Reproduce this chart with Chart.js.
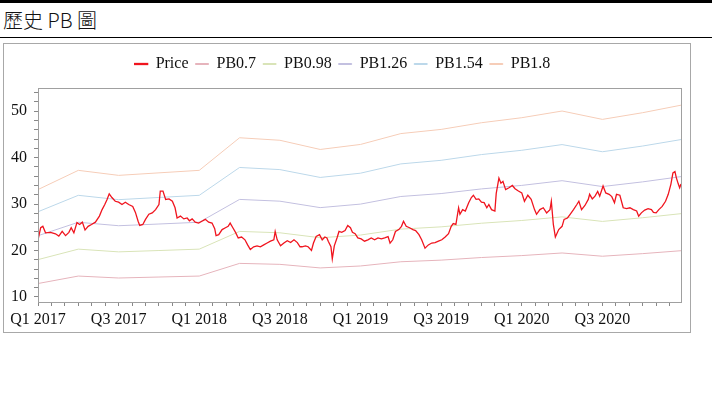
<!DOCTYPE html>
<html>
<head>
<meta charset="utf-8">
<script src="https://cdn.jsdelivr.net/npm/chart.js@4/dist/chart.umd.min.js"></script>
<style>
    body { margin: 0; background: #fff; }
    #wrap { width: 712px; }
    #topbar { height: 3px; background: #000; }
    #title {
        font-family: "Noto Sans CJK TC", sans-serif;
        font-weight: 300;
        font-size: 20px;
        line-height: 33px;
        height: 34px;
        padding-left: 3px;
        border-bottom: 1px solid #000;
        color: #111;
    }
    #box {
        position: absolute;
        left: 3px;
        top: 43px;
        width: 686px;
        height: 288px;
        border: 1px solid #a8a8a8;
    }
</style>
</head>
<body>
<div id="wrap">
    <div id="topbar"></div>
    <div id="title">歷史 PB 圖</div>
</div>
<div id="box"><canvas id="pbChart" width="686" height="288"></canvas></div>
<script>
// x values are months since Jan 2017
const priceMonths = [0,0.2,0.36,0.56,0.93,1.3,1.55,1.8,2.05,2.3,2.47,2.67,2.9,3.1,3.3,3.5,3.73,3.98,4.27,4.57,4.77,4.97,5.14,5.3,5.5,5.75,6,6.25,6.5,6.75,7.05,7.25,7.45,7.57,7.8,8,8.25,8.5,8.75,9,9.1,9.3,9.5,9.75,10,10.2,10.35,10.6,10.85,11.1,11.27,11.47,11.7,11.95,12.2,12.45,12.7,12.95,13.15,13.25,13.45,13.7,13.95,14.15,14.3,14.5,14.7,14.9,15.15,15.4,15.6,15.8,16.05,16.3,16.55,16.8,17.05,17.3,17.55,17.65,17.8,18.05,18.3,18.55,18.8,19.05,19.3,19.5,19.65,19.9,20.1,20.35,20.5,20.7,20.95,21.15,21.35,21.5,21.6,21.8,21.9,22.05,22.25,22.4,22.6,22.85,23.05,23.25,23.4,23.6,23.8,24.05,24.3,24.55,24.8,25.05,25.3,25.55,25.8,26.05,26.2,26.4,26.6,26.85,27.05,27.2,27.4,27.65,27.9,28.1,28.35,28.55,28.8,29.05,29.3,29.55,29.8,30.05,30.3,30.55,30.75,30.9,31.1,31.3,31.4,31.6,31.8,32.05,32.25,32.4,32.6,32.8,33,33.2,33.4,33.55,33.75,34,34.1,34.3,34.45,34.6,34.8,35.05,35.3,35.5,35.75,36,36.2,36.45,36.7,36.95,37.1,37.35,37.6,37.85,38.1,38.2,38.35,38.5,38.75,39,39.15,39.4,39.6,39.85,40.1,40.25,40.45,40.7,40.95,41.05,41.25,41.45,41.65,41.8,42.05,42.25,42.5,42.7,42.9,43.05,43.3,43.55,43.8,44.05,44.3,44.55,44.7,44.9,45.15,45.4,45.65,45.8,46,46.2,46.45,46.7,46.9,47.1,47.25,47.4,47.5,47.65,47.75,47.85];
const price = [22.3,24.9,25.2,23.8,23.9,23.6,23.1,24.1,23.2,23.9,24.9,23.8,26.0,25.6,26.1,24.4,25.2,25.6,26.1,27.4,28.8,29.9,31.0,32.2,31.4,30.6,30.4,29.9,30.4,29.9,29.5,28.2,26.3,25.4,25.6,26.7,27.8,28.1,28.8,29.9,32.8,32.8,31.0,31.1,30.6,29.2,27.0,27.4,26.8,27.0,26.4,26.8,26.1,25.9,26.3,26.7,26.1,25.9,24.7,23.2,23.4,24.5,24.9,25.2,25.9,24.9,23.9,22.7,22.9,22.3,21.2,20.2,20.8,21.0,20.8,21.2,21.6,22.0,22.3,24.1,22.3,21.0,21.6,22.1,21.7,22.3,21.7,20.8,20.8,21.0,20.8,20.0,21.6,23.0,23.4,22.3,22.9,22.7,22.0,20.8,18.2,21.0,22.7,24.1,23.9,24.3,25.4,24.9,23.9,23.6,22.7,22.5,22.0,22.3,22.7,22.3,22.7,22.5,22.7,23.0,21.6,22.3,24.1,24.5,25.2,26.3,25.2,24.9,24.5,24.3,23.4,22.3,20.5,21.2,21.6,21.7,22.0,22.3,22.9,23.6,25.2,25.8,25.6,29.2,27.8,28.8,28.5,30.3,31.4,31.9,31.0,31.1,30.4,30.3,29.2,29.9,28.8,28.5,32.3,35.6,34.5,34.9,33.1,33.5,34.0,33.3,32.8,32.4,30.6,31.9,31.0,28.8,27.8,28.8,29.2,28.1,28.8,30.6,25.6,22.9,24.5,25.2,26.7,27.0,27.8,28.8,29.9,30.6,28.8,29.7,31.0,32.1,31.1,31.7,32.7,31.7,33.9,32.4,32.1,31.6,30.3,32.1,31.9,29.2,29.0,29.2,28.8,28.5,27.4,28.1,28.7,29.0,28.8,28.2,28.1,28.8,29.5,30.6,32.1,34.3,36.7,37.0,35.7,34.3,33.5,34.3];

// PB bands, one value per quarter
const bandMonths = [0,3,6,9,12,15,18,21,24,27,30,33,36,39,42,45,47.85];
const pb07  = [12.88,14.49,14.07,14.28,14.49,17.22,17.01,16.24,16.66,17.57,17.92,18.48,18.90,19.46,18.76,19.32,19.95];
const pb098 = [18.03,20.29,19.70,19.99,20.29,24.11,23.81,22.74,23.32,24.60,25.09,25.87,26.46,27.24,26.26,27.05,27.93];
const pb126 = [23.18,26.08,25.33,25.70,26.08,31.00,30.62,29.23,29.99,31.63,32.26,33.26,34.02,35.03,33.77,34.78,35.91];
const pb154 = [28.34,31.88,30.95,31.42,31.88,37.88,37.42,35.73,36.65,38.65,39.42,40.66,41.58,42.81,41.27,42.50,43.89];
const pb18  = [33.12,37.26,36.18,36.72,37.26,44.28,43.74,41.76,42.84,45.18,46.08,47.52,48.60,50.04,48.24,49.68,51.30];

const seriesNames = ['Price', 'PB0.7', 'PB0.98', 'PB1.26', 'PB1.54', 'PB1.8'];
const xTickLabels = ['Q1 2017','Q3 2017','Q1 2018','Q3 2018','Q1 2019','Q3 2019','Q1 2020','Q3 2020'];
const yTickLabels = [10, 20, 30, 40, 50];

function toPoints(xs, ys){
    return xs.map((x, i) => ({x: x, y: ys[i]}));
}

function band(name, values, color){
    return {
        label: name,
        data: toPoints(bandMonths, values),
        borderColor: color,
        backgroundColor: color,
        borderWidth: 1,
        pointRadius: 0,
        fill: false,
        tension: 0
    };
}

// gray frame round the plot area
const frame = {
    id: 'frame',
    afterDraw(chart){
        const a = chart.chartArea;
        const ctx = chart.ctx;
        ctx.save();
        ctx.strokeStyle = '#a0a0a0';
        ctx.lineWidth = 1;
        ctx.strokeRect(Math.round(a.left) + 0.5, Math.round(a.top) + 0.5,
            Math.round(a.right - a.left), Math.round(a.bottom - a.top));
        ctx.restore();
    }
};

Chart.defaults.font.family = '"Liberation Serif", "Times New Roman", serif';
Chart.defaults.font.size = 16;
Chart.defaults.color = '#111';

new Chart(document.getElementById('pbChart'), {
    type: 'line',
    data: {
        datasets: [
            {
                label: seriesNames[0],
                data: toPoints(priceMonths, price),
                borderColor: '#f0141e',
                backgroundColor: '#d0303c',
                borderWidth: 1.3,
                pointRadius: 0,
                fill: false,
                tension: 0
            },
            band(seriesNames[1], pb07, '#e6b4bc'),
            band(seriesNames[2], pb098, '#d9e4b8'),
            band(seriesNames[3], pb126, '#c3c0e0'),
            band(seriesNames[4], pb154, '#bcd8ea'),
            band(seriesNames[5], pb18, '#f6cdb8')
        ]
    },
    options: {
        responsive: false,
        animation: false,
        layout: { padding: { top: 5, right: 9, left: 0, bottom: 0 } },
        scales: {
            x: {
                type: 'linear',
                min: 0,
                max: 47.85,
                afterBuildTicks(scale){
                    const t = [];
                    for (let m = 0; m <= 47; m++) t.push({value: m});
                    scale.ticks = t;
                },
                afterFit(scale){ scale.height = 30; },
                ticks: {
                    autoSkip: false,
                    maxRotation: 0,
                    padding: 4,
                    callback: (v) => (v % 6 === 0) ? xTickLabels[v / 6] : ''
                },
                grid: { drawOnChartArea: false, tickLength: 4, tickColor: '#888' },
                border: { color: '#a0a0a0' }
            },
            // empty strip between legend and plot
            gap: {
                type: 'linear',
                position: 'top',
                min: 0,
                max: 1,
                afterFit(scale){ scale.height = 6; },
                ticks: { display: false },
                grid: { display: false },
                border: { display: false }
            },
            y: {
                min: 8.9,
                max: 55,
                afterBuildTicks(scale){
                    const t = [];
                    for (let v = 10; v <= 54; v += 2) t.push({value: v});
                    scale.ticks = t;
                },
                afterFit(scale){ scale.width = 34; },
                ticks: {
                    autoSkip: false,
                    padding: 7,
                    callback: (v) => yTickLabels.includes(v) ? String(v) : ''
                },
                grid: { drawOnChartArea: false, tickLength: 4, tickColor: '#888' },
                border: { color: '#a0a0a0' }
            }
        },
        plugins: {
            legend: {
                position: 'top',
                labels: {
                    boxWidth: 13,
                    boxHeight: 1,
                    padding: 7,
                    font: { size: 16 }
                }
            },
            tooltip: { enabled: false },
            title: { display: false }
        }
    },
    plugins: [frame]
});
</script>
</body>
</html>
